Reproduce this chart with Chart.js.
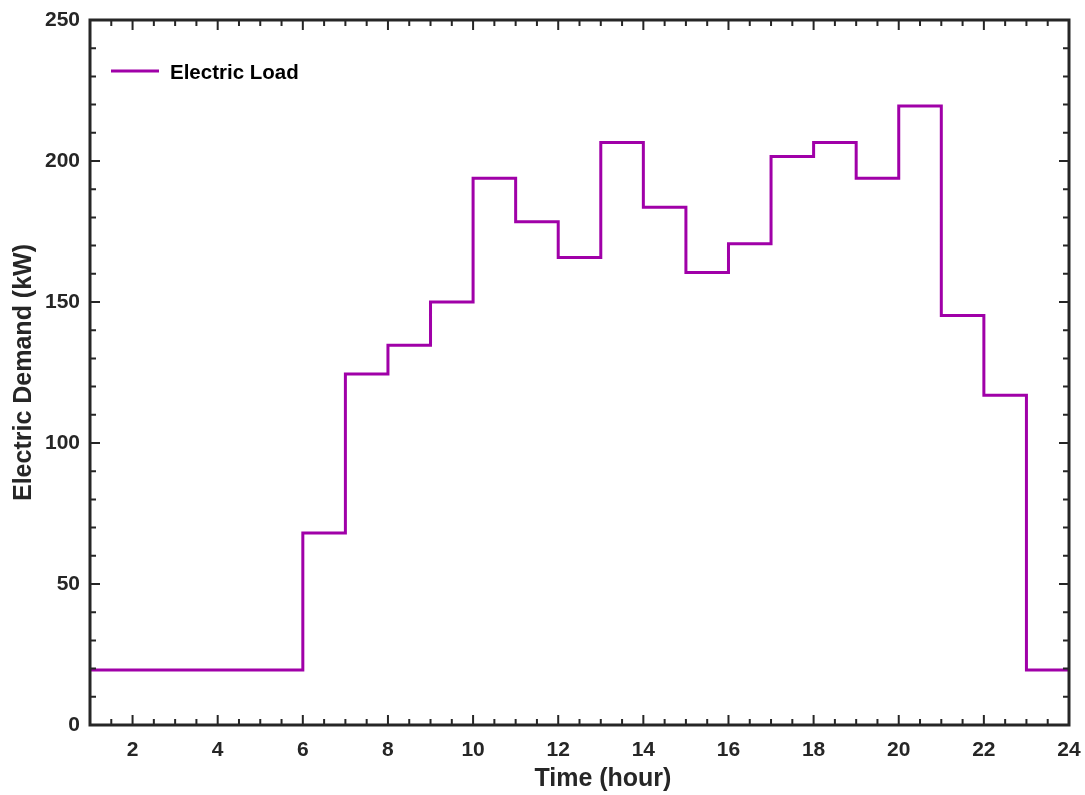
<!DOCTYPE html>
<html>
<head>
<meta charset="utf-8">
<title>Electric Load</title>
<script src="https://cdn.jsdelivr.net/npm/chart.js@4.4.1/dist/chart.umd.min.js"></script>
<style>
  html, body { margin: 0; padding: 0; background: #fff; }
  canvas { display: block; }
</style>
</head>
<body>
<canvas id="loadChart" width="1085" height="795"></canvas>
<script>
'use strict';

// hourly demand, held constant over each hour (stairs)
const hours = [1, 2, 3, 4, 5, 6, 7, 8, 9, 10, 11, 12, 13, 14, 15, 16, 17, 18, 19, 20, 21, 22, 23, 24];
const electricLoad = [19.5, 19.5, 19.5, 19.5, 19.5, 68.1, 124.5, 134.7, 150.0, 193.9, 178.5, 165.8,
  206.6, 183.6, 160.5, 170.7, 201.6, 206.6, 193.9, 219.5, 145.2, 116.9, 19.5, 19.5];

const xTickLabels = [2, 4, 6, 8, 10, 12, 14, 16, 18, 20, 22, 24];
const yTickLabels = [0, 50, 100, 150, 200, 250];

const inkColor = '#262626';
const lineColor = '#A000A8';
const fontFamily = '"Liberation Sans", Arial, sans-serif';

// boxed axes with inward major/minor ticks, x label and a legend inside the plot
const boxAxes = {
  id: 'boxAxes',
  afterDraw(chart) {
    const ctx = chart.ctx;
    const area = chart.chartArea;
    const xs = chart.scales.x;
    const ys = chart.scales.y;
    ctx.save();
    ctx.strokeStyle = inkColor;
    ctx.lineWidth = 2;
    ctx.beginPath();
    for (let v = xs.min; v <= xs.max + 1e-9; v += 0.5) {
      const px = xs.getPixelForValue(v);
      const len = v % 2 === 0 ? 10 : 6;
      ctx.moveTo(px, area.bottom);
      ctx.lineTo(px, area.bottom - len);
      ctx.moveTo(px, area.top);
      ctx.lineTo(px, area.top + len);
    }
    for (let v = ys.min; v <= ys.max + 1e-9; v += 10) {
      const py = ys.getPixelForValue(v);
      const len = v % 50 === 0 ? 10 : 6;
      ctx.moveTo(area.left, py);
      ctx.lineTo(area.left + len, py);
      ctx.moveTo(area.right, py);
      ctx.lineTo(area.right - len, py);
    }
    ctx.stroke();

    ctx.lineWidth = 3;
    ctx.strokeRect(area.left, area.top, area.right - area.left, area.bottom - area.top);

    // x axis label, sits a little right of the axis centre
    ctx.fillStyle = inkColor;
    ctx.font = 'bold 25px ' + fontFamily;
    ctx.textAlign = 'center';
    ctx.textBaseline = 'middle';
    ctx.fillText('Time (hour)', xs.getPixelForValue(13.05), area.bottom + 54);

    // legend
    const ds = chart.data.datasets[0];
    const lx = area.left + 21;
    const ly = area.top + 51;
    ctx.strokeStyle = ds.borderColor;
    ctx.lineWidth = 3;
    ctx.beginPath();
    ctx.moveTo(lx, ly);
    ctx.lineTo(lx + 48, ly);
    ctx.stroke();
    ctx.fillStyle = '#000';
    ctx.font = 'bold 20.5px ' + fontFamily;
    ctx.textAlign = 'left';
    ctx.fillText(ds.label, lx + 59, ly + 2);
    ctx.restore();
  }
};

const ctx = document.getElementById('loadChart').getContext('2d');
const loadChart = new Chart(ctx, {
  type: 'line',
  data: {
    labels: hours,
    datasets: [{
      label: 'Electric Load',
      data: electricLoad,
      borderColor: lineColor,
      backgroundColor: lineColor,
      borderWidth: 3,
      stepped: true,
      pointRadius: 0,
      fill: false
    }]
  },
  options: {
    responsive: false,
    animation: false,
    layout: { padding: { top: 20, right: 16, left: 0, bottom: 0 } },
    plugins: {
      legend: { display: false },
      tooltip: { enabled: false }
    },
    scales: {
      x: {
        type: 'linear',
        min: 1,
        max: 24,
        grid: { display: false, drawTicks: false },
        border: { display: false },
        afterBuildTicks: scale => { scale.ticks = xTickLabels.map(v => ({ value: v })); },
        afterFit: scale => {
          scale.height = 70;
          scale.paddingLeft = 0;
          scale.paddingRight = 0;
        },
        ticks: {
          color: inkColor,
          padding: 13,
          maxRotation: 0,
          font: { family: fontFamily, size: 21, weight: 'bold' }
        },
        title: { display: false }
      },
      y: {
        min: 0,
        max: 250,
        grid: { display: false, drawTicks: false },
        border: { display: false },
        afterBuildTicks: scale => { scale.ticks = yTickLabels.map(v => ({ value: v })); },
        afterFit: scale => {
          scale.width = 90;
          scale.paddingTop = 0;
          scale.paddingBottom = 0;
        },
        ticks: {
          color: inkColor,
          padding: 10,
          font: { family: fontFamily, size: 21, weight: 'bold' }
        },
        title: {
          display: true,
          text: 'Electric Demand (kW)',
          color: inkColor,
          padding: { top: 9, bottom: 0 },
          font: { family: fontFamily, size: 25, weight: 'bold' }
        }
      }
    }
  },
  plugins: [boxAxes]
});
</script>
</body>
</html>
